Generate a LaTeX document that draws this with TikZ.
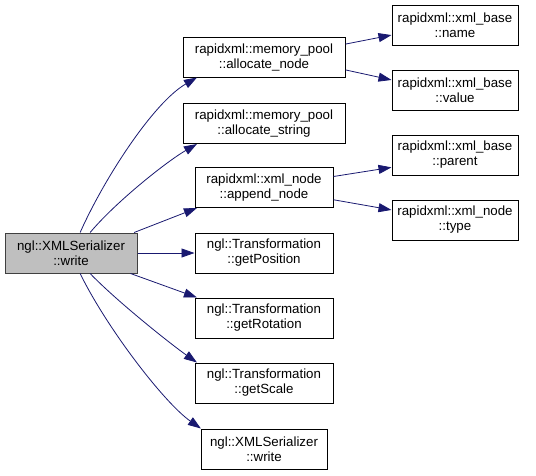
\documentclass[tikz,border=0pt]{standalone}
\usepackage{fontspec}
\setmainfont{Liberation Sans}
\usepackage{tikz}
\usetikzlibrary{arrows.meta, positioning}

\definecolor{edgeblue}{RGB}{25,25,112}
\definecolor{rootfill}{RGB}{191,191,191}
\definecolor{rootline}{RGB}{64,64,64}

\begin{document}
\begin{tikzpicture}[
	x=1pt, y=1pt,
	font=\fontsize{13.3}{15}\selectfont,
	>={Triangle[length=13pt, width=9pt]},
	% Style for called functions
	fn/.style={rectangle, draw=black, line width=1pt, minimum height=40pt, inner sep=0pt, align=center, fill=white},
	% Style for the function the graph is about
	rootfn/.style={fn, draw=rootline, fill=rootfill},
	% Style for call edges
	call/.style={edgeblue, line width=0.8pt, ->}
	]
	
	\useasboundingbox (0,0) rectangle (536,-475);
	
	% 1. Caller
	\node[rootfn, minimum width=132pt] (root) at (71,-253) {ngl::XMLSerializer\\::write};
	
	% 2. Direct callees
	\node[fn, minimum width=162pt] (alloc_node) at (264,-57) {rapidxml::memory\_pool\\::allocate\_node};
	\node[fn, minimum width=162pt] (alloc_str) at (264,-123.5) {rapidxml::memory\_pool\\::allocate\_string};
	\node[fn, minimum width=138pt] (append) at (264,-187.5) {rapidxml::xml\_node\\::append\_node};
	\node[fn, minimum width=138pt] (get_pos) at (264,-253) {ngl::Transformation\\::getPosition};
	\node[fn, minimum width=138pt] (get_rot) at (264,-318) {ngl::Transformation\\::getRotation};
	\node[fn, minimum width=138pt] (get_scale) at (264,-383) {ngl::Transformation\\::getScale};
	\node[fn, minimum width=126pt] (write_self) at (264,-449) {ngl::XMLSerializer\\::write};
	
	% 3. Second level callees
	\node[fn, minimum width=126pt] (base_name) at (455,-25) {rapidxml::xml\_base\\::name};
	\node[fn, minimum width=126pt] (base_value) at (455,-90) {rapidxml::xml\_base\\::value};
	\node[fn, minimum width=126pt] (base_parent) at (455,-155) {rapidxml::xml\_base\\::parent};
	\node[fn, minimum width=126pt] (node_type) at (455,-220) {rapidxml::xml\_node\\::type};
	
	% 4. Edges from the caller
	\draw[call] (root.66) .. controls +(66:60) and +(210:50) .. (alloc_node.197);
	\draw[call] (root.47) .. controls +(50:40) and +(210:35) .. (alloc_str.197);
	\draw[call] (root.18) -- (append.197);
	\draw[call] (root) -- (get_pos);
	\draw[call] (root.-19) -- (get_rot.163);
	\draw[call] (root.-47) .. controls +(-46:40) and +(145:30) .. (get_scale.163);
	\draw[call] (root.-66) .. controls +(-64:60) and +(145:45) .. (write_self.162);
	
	% 5. Edges to the second level
	\draw[call] (alloc_node.9) -- (base_name.189);
	\draw[call] (alloc_node.-9) -- (base_value.171);
	\draw[call] (append.9) -- (base_parent.191);
	\draw[call] (append.-10) -- (node_type.171);
	
\end{tikzpicture}
\end{document}
